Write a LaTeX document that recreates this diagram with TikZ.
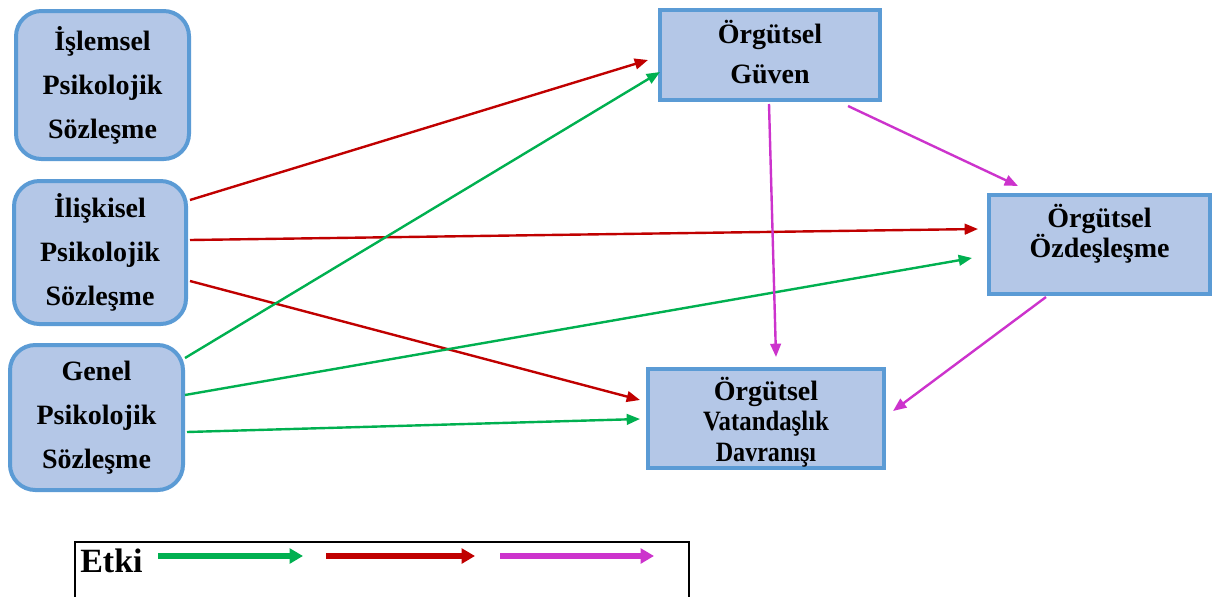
\documentclass[tikz,border=0pt]{standalone}
\usepackage{fontspec}
\setmainfont{Liberation Serif}
\usepackage{graphicx}
\usetikzlibrary{arrows.meta,calc}
\definecolor{boxfill}{HTML}{B4C7E7}
\definecolor{boxline}{HTML}{5B9BD5}
\definecolor{egreen}{HTML}{00B050}
\definecolor{ered}{HTML}{C00000}
\definecolor{emag}{HTML}{CC33CC}
\begin{document}
\begin{tikzpicture}[x=0.75pt,y=-0.75pt,
 rbox/.style={draw=boxline,fill=boxfill,line width=3pt,rounded corners=19pt,align=center,
   font={\fontsize{21}{33}\selectfont\bfseries},inner sep=0pt},
 sbox/.style={draw=boxline,fill=boxfill,line width=3pt,align=center,inner sep=0pt},
 eff/.style={line width=1.8pt,-{Triangle[length=10pt,width=8pt]}},
 legarrow/.style={line width=3.8pt,-{Triangle[length=10pt,width=11pt]}}]
\useasboundingbox (0,0) rectangle (1219,596);
% left boxes
\node[rbox,minimum width=129.75pt,minimum height=111pt] (is) at (102.5,85) {İşlemsel\\Psikolojik\\Sözleşme};
\node[rbox,minimum width=129pt,minimum height=107.25pt] (il) at (100,252.5) {İlişkisel\\Psikolojik\\Sözleşme};
\node[rbox,minimum width=129.75pt,minimum height=108.75pt] (gn) at (96.5,417.5) {Genel\\Psikolojik\\Sözleşme};
% right boxes
\node[sbox,font={\fontsize{21}{30}\selectfont\bfseries},minimum width=165pt,minimum height=67.5pt] (gv) at (770,55) {Örgütsel\\Güven\rule[-5pt]{0pt}{0pt}};
\node[sbox,font={\fontsize{21}{22.5}\selectfont\bfseries},text depth=21pt,minimum width=165.75pt,minimum height=74.25pt] (oz) at (1099.5,244.5) {Örgütsel\\Özdeşleşme};
\node[sbox,font={\fontsize{21}{23}\selectfont\bfseries},minimum width=177pt,minimum height=74.25pt] (vd) at (766,418.5) {\rule{0pt}{23pt}Örgütsel\\\scalebox{0.885}[1]{Vatandaşlık}\\\scalebox{0.86}[1]{Davranışı}};
% red arrows
\draw[eff,ered] ($(il.north east)+(2,21)$) -- ($(gv.north west)+(-10,52)$);
\draw[eff,ered] ($(il.north east)+(2,61)$) -- ($(oz.north west)+(-9,36)$);
\draw[eff,ered] ($(il.north east)+(2,102)$) -- ($(vd.north west)+(-6,33)$);
% green arrows
\draw[eff,egreen] ($(gn.north east)+(0,15)$) -- ($(gv.north west)+(2,64)$);
\draw[eff,egreen] ($(gn.north east)+(0,52)$) -- ($(oz.north west)+(-15,65)$);
\draw[eff,egreen] ($(gn.north east)+(2,89)$) -- ($(vd.north west)+(-6,52)$);
% magenta arrows
\draw[eff,emag] ($(gv.south west)+(111,2)$) -- ($(vd.north west)+(130,-10)$);
\draw[eff,emag] ($(gv.south west)+(190,4)$) -- ($(oz.north west)+(31,-7)$);
\draw[eff,emag] ($(oz.south west)+(59,1)$) -- ($(vd.north east)+(7,44)$);
% legend
\node[draw,line width=1.5pt,minimum width=460.5pt,minimum height=75pt,anchor=north west,inner sep=0pt] (leg) at (74,541) {};
\node[font={\fontsize{25.5}{30}\selectfont\bfseries},anchor=base west,inner sep=0pt] (etki) at (80,572) {Etki};
\coordinate (g1) at (158,556); \coordinate (g2) at (303,556);
\coordinate (r1) at (326,556); \coordinate (r2) at (475,556);
\coordinate (m1) at (500,556); \coordinate (m2) at (654,556);
\draw[legarrow,egreen] (g1) -- (g2);
\draw[legarrow,ered] (r1) -- (r2);
\draw[legarrow,emag] (m1) -- (m2);
\end{tikzpicture}
\end{document}
